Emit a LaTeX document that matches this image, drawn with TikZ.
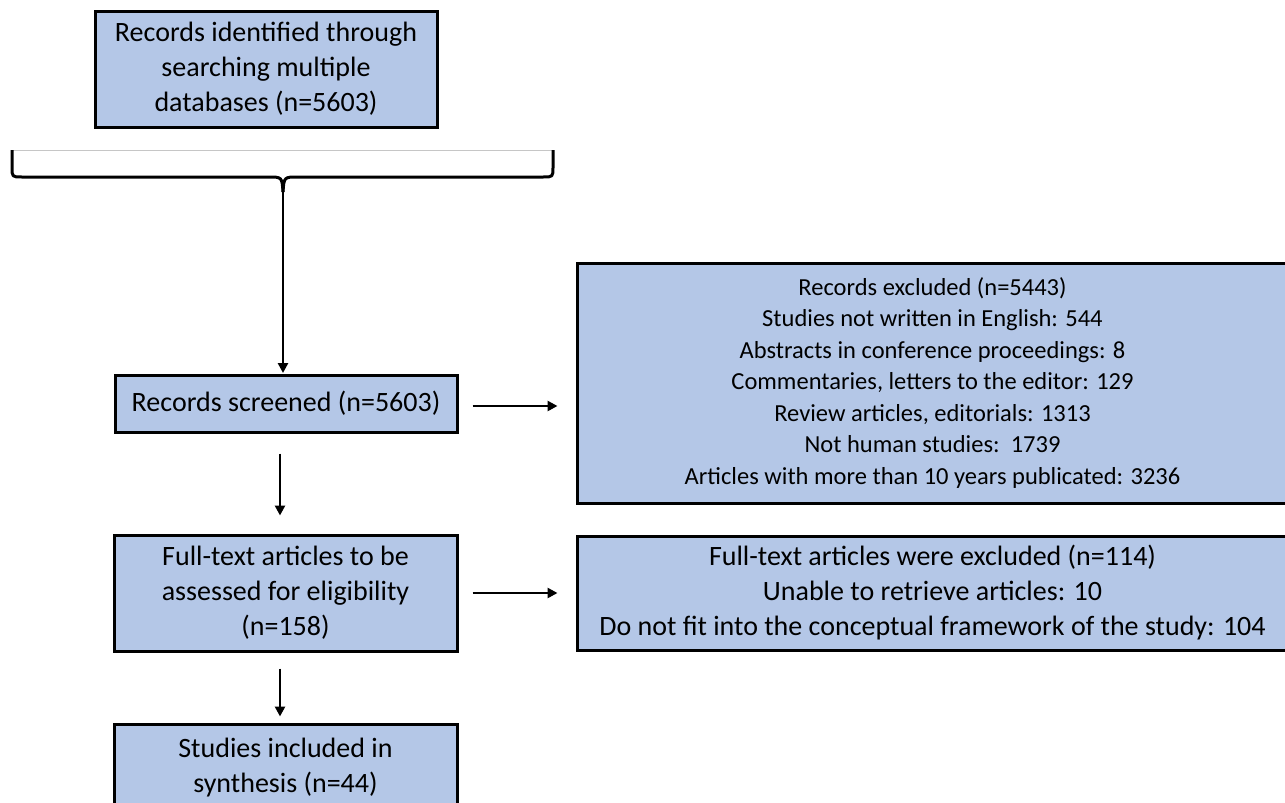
\documentclass[tikz,border=0pt]{standalone}
\usepackage{fontspec}
\setmainfont{Carlito}
\usetikzlibrary{arrows.meta}
\definecolor{boxblue}{HTML}{B4C7E7}
\tikzset{
  flowbox/.style={draw=black, fill=boxblue, line width=3pt, inner sep=0pt, align=center,
    font=\fontsize{28}{35}\selectfont},
  smallbox/.style={flowbox, font=\fontsize{24.5}{31.5}\selectfont},
  arr/.style={line width=2.6pt, -{Triangle[length=10pt,width=10pt]}},
  bracestyle/.style={line width=3pt, line join=round}
}
\begin{document}
\begin{tikzpicture}[x=1pt,y=-1pt]
\useasboundingbox (0,0) rectangle (1285,803);
% boxes
\node[flowbox, minimum width=342pt, minimum height=116pt] (top) at (266,69)
  {Records identified through\\ searching multiple\\ databases (n=5603)};
\node[flowbox, minimum width=342pt, minimum height=57pt] (screened) at (286,403.5)
  {Records screened (n=5603)};
\node[flowbox, minimum width=343pt, minimum height=116pt] (fulltext) at (285.5,593)
  {Full-text articles to be\\ assessed for eligibility\\ (n=158)};
\node[flowbox, minimum width=343pt, minimum height=88pt] (studies) at (285.5,768)
  {Studies included in\\ synthesis (n=44)};
\node[smallbox, minimum width=711pt, minimum height=240pt] (excl1) at (932.5,383)
  {Records excluded (n=5443)\\ Studies not written in English: 544\\ Abstracts in conference proceedings: 8\\
   Commentaries, letters to the editor: 129\\ Review articles, editorials: 1313\\ Not human studies:~~1739\\
   Articles with more than 10 years publicated: 3236};
\node[flowbox, minimum width=711pt, minimum height=114pt] (excl2) at (932.5,593)
  {Full-text articles were excluded (n=114)\\ Unable to retrieve articles: 10\\
   Do not fit into the conceptual framework of the study: 104};
% brace
\draw[gray!45, line width=0.8pt] (12,150) -- (553,150);
\coordinate (bracetip) at (283,192);
\draw[bracestyle] (12,150) -- (12,167) .. controls (12,177) .. (22,177) -- (268,177)
  .. controls (282,177) .. (bracetip);
\draw[bracestyle] (553,150) -- (553,167) .. controls (553,177) .. (543,177) -- (298,177)
  .. controls (284,177) .. (bracetip);
% arrows
\draw[arr] (bracetip) -- (bracetip |- 0,373);
\draw[arr] ([xshift=-6pt,yshift=-20pt]screened.south) -- ([xshift=-5.5pt,yshift=18pt]fulltext.north);
\draw[arr] ([xshift=-5.5pt,yshift=-16pt]fulltext.south) -- ([xshift=-5.5pt,yshift=6pt]studies.north);
\draw[arr] ([xshift=14pt,yshift=-2.5pt]screened.east) -- ([xshift=-18pt,yshift=-2.5pt]screened.east -| excl1.west);
\draw[arr] ([xshift=14pt]fulltext.east) -- ([xshift=-18pt]fulltext.east -| excl2.west);
\end{tikzpicture}
\end{document}
